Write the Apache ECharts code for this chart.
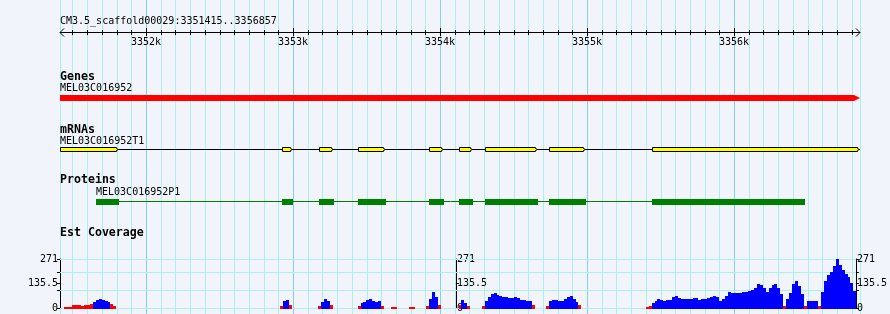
<!DOCTYPE html>
<html><head><meta charset="utf-8">
<script src="https://cdn.jsdelivr.net/npm/echarts@6/dist/echarts.min.js"></script>
<style>html,body{margin:0;padding:0;background:#f1f4fa;}#c{width:890px;height:314px;}</style>
</head><body><div id="c"></div>
<script>
// ---------- data ----------
const refTitle = 'CM3.5_scaffold00029:3351415..3356857';
const viewStart = 3351415;
const viewEnd = 3356857;
const rulerLabelPos = [3352000, 3353000, 3354000, 3355000, 3356000];
const rulerLabels = ['3352k', '3353k', '3354k', '3355k', '3356k'];
const trackTitles = ['Genes', 'mRNAs', 'Proteins', 'Est Coverage'];

const geneName = 'MEL03C016952';
const geneStart = 3351415;
const geneEnd = 3356857;

const mrnaName = 'MEL03C016952T1';
const exonStarts = [3351415, 3352925, 3353177, 3353442, 3353925, 3354129, 3354306, 3354741, 3355442];
const exonEnds   = [3351816, 3353000, 3353279, 3353633, 3354027, 3354224, 3354667, 3354993, 3356857];

const proteinName = 'MEL03C016952P1';
const cdsStarts = [3351660, 3352925, 3353177, 3353442, 3353925, 3354129, 3354306, 3354741, 3355442];
const cdsEnds   = [3351816, 3353000, 3353279, 3353633, 3354027, 3354224, 3354667, 3354993, 3356483];

const covMax = 271;
const covBin = 20;
const covLowCut = 25;
const covTickValues = [0, 97, 135.5, 199, 271];
const covLabelValues = [0, 135.5, 271];
const covGridValues = [0, 97, 199, 271];
const covRegionStarts = [3351440, 3352920, 3353180, 3353450, 3353680, 3353800, 3353920, 3354140, 3354300, 3354740, 3355420];
const covRegionValues = [
  [5,5,5,16,16,16,9,16,16,22,32,46,50,44,37,31,22,9],
  [10,40,46,18],
  [10,32,50,36,14],
  [9,28,34,46,52,40,34,40,12],
  [8,8],
  [8,8],
  [10,50,90,60,14],
  [14,46,30,10],
  [12,40,62,78,82,74,68,62,60,56,58,60,55,46,42,40,36,14],
  [12,40,46,46,40,36,48,60,64,48,34,14],
  [4,13,30,40,48,44,40,46,46,62,64,55,50,50,50,50,55,55,46,48,
   52,58,59,66,60,40,50,68,88,83,83,83,83,90,90,96,101,110,130,125,
   110,88,108,125,130,112,75,9,50,85,130,147,120,80,13,38,41,41,41,9,
   90,147,180,200,235,271,240,212,190,170,140,95]
];

// ---------- build ----------
const FONT = '10px "DejaVu Sans Mono"';
const BOLD = 'bold 11.6px "DejaVu Sans Mono"';
const MINOR = '#afeeee', MAJOR = '#87ceeb';

const vLines = [viewStart];
for (let p = Math.ceil(viewStart / 100) * 100; p < viewEnd; p += 100) vLines.push(p);
vLines.push(viewEnd);
const rulerTicks = vLines.slice(1, -1);

const covData = [];
covRegionStarts.forEach((s, r) => {
  covRegionValues[r].forEach((v, i) => covData.push([s + i * covBin, s + (i + 1) * covBin, v]));
});

function X(api, bp) { return api.coord([bp, 0])[0]; }

const chart = echarts.init(document.getElementById('c'));
chart.setOption({
  animation: false,
  backgroundColor: '#f1f4fa',
  grid: [
    { left: 60, right: 30, top: 0, bottom: 0, containLabel: false },
    { left: 60, right: 30, top: 259, height: 49, containLabel: false }
  ],
  xAxis: [
    { gridIndex: 0, type: 'value', min: viewStart, max: viewEnd, show: false },
    { gridIndex: 1, type: 'value', min: viewStart, max: viewEnd, show: false }
  ],
  yAxis: [
    { gridIndex: 0, type: 'value', min: 0, max: 1, show: false },
    { gridIndex: 1, type: 'value', min: 0, max: covMax, position: 'left',
      axisLine: { show: true, lineStyle: { color: '#000', width: 1 } },
      axisTick: { show: true, length: 3, customValues: covTickValues, lineStyle: { color: '#000' } },
      axisLabel: { show: true, customValues: covLabelValues, margin: 2, color: '#000', fontFamily: 'DejaVu Sans Mono', fontSize: 10,
        formatter: v => String(v) },
      splitLine: { show: false } },
    { gridIndex: 1, type: 'value', min: 0, max: covMax, position: 'right', offset: -400,
      axisLine: { show: true, lineStyle: { color: '#000', width: 1 } },
      axisTick: { show: true, length: 3, customValues: covTickValues, lineStyle: { color: '#000' } },
      axisLabel: { show: true, customValues: covLabelValues, margin: 1, color: '#000', fontFamily: 'DejaVu Sans Mono', fontSize: 10,
        formatter: v => String(v) },
      splitLine: { show: false } },
    { gridIndex: 1, type: 'value', min: 0, max: covMax, position: 'right', offset: 0,
      axisLine: { show: true, lineStyle: { color: '#000', width: 1 } },
      axisTick: { show: true, length: 3, customValues: covTickValues, lineStyle: { color: '#000' } },
      axisLabel: { show: true, customValues: covLabelValues, margin: 1, color: '#000', fontFamily: 'DejaVu Sans Mono', fontSize: 10,
        formatter: v => String(v) },
      splitLine: { show: false } }
  ],
  graphic: trackTitles.map((t, i) => ({
    type: 'text', x: 60, y: [77, 129.7, 180.3, 233][i], z: 50,
    style: { text: t, font: BOLD, fill: '#000', align: 'left', verticalAlign: 'middle' }
  })),
  series: [
    // vertical grid lines
    { type: 'custom', xAxisIndex: 0, yAxisIndex: 0, z: 0, silent: true, clip: false,
      data: vLines.map(v => [v, 0]), encode: { x: 0, y: 1 },
      renderItem: (params, api) => {
        const v = api.value(0);
        const x = Math.round(X(api, v)) + 0.5;
        return { type: 'line', shape: { x1: x, y1: 0, x2: x, y2: 314 },
          style: { stroke: (v % 1000 === 0) ? MAJOR : MINOR, lineWidth: 1 } };
      } },
    // coverage horizontal grid lines
    { type: 'custom', xAxisIndex: 1, yAxisIndex: 1, z: 1, silent: true, clip: false,
      data: covGridValues.map(v => [viewStart, v]), encode: { x: 0, y: 1 },
      renderItem: (params, api) => {
        const p0 = api.coord([viewStart, api.value(1)]);
        const p1 = api.coord([viewEnd, api.value(1)]);
        const y = Math.round(p0[1]) + 0.5;
        return { type: 'line', shape: { x1: p0[0], y1: y, x2: p1[0], y2: y },
          style: { stroke: MINOR, lineWidth: 1 } };
      } },
    // ruler
    { type: 'custom', xAxisIndex: 0, yAxisIndex: 0, z: 5, silent: true, clip: false,
      data: [[viewStart, viewEnd]], encode: { x: [0, 1] },
      renderItem: (params, api) => {
        const x0 = X(api, viewStart), x1 = X(api, viewEnd);
        const y = 32.5;
        const ch = [
          { type: 'line', shape: { x1: x0, y1: y, x2: x1, y2: y }, style: { stroke: '#000', lineWidth: 1 } },
          { type: 'polyline', shape: { points: [[x0 + 4, y - 4], [x0, y], [x0 + 4, y + 4]] }, style: { stroke: '#000', lineWidth: 1, fill: null } },
          { type: 'polyline', shape: { points: [[x1 - 4, y - 4], [x1, y], [x1 - 4, y + 4]] }, style: { stroke: '#000', lineWidth: 1, fill: null } },
          { type: 'text', style: { text: refTitle, x: x0, y: 21, font: FONT, fill: '#000', align: 'left', verticalAlign: 'middle' } }
        ];
        rulerTicks.forEach(t => {
          const x = Math.round(X(api, t)) + 0.5;
          const major = t % 1000 === 0;
          ch.push({ type: 'line', shape: { x1: x, y1: major ? 28 : 30, x2: x, y2: major ? 36 : 35 }, style: { stroke: '#000', lineWidth: 1 } });
        });
        rulerLabelPos.forEach((t, i) => {
          ch.push({ type: 'text', style: { text: rulerLabels[i], x: X(api, t), y: 42.5, font: FONT, fill: '#000', align: 'center', verticalAlign: 'middle' } });
        });
        return { type: 'group', children: ch };
      } },
    // gene
    { type: 'custom', xAxisIndex: 0, yAxisIndex: 0, z: 5, silent: true, clip: false,
      data: [[geneStart, geneEnd]], encode: { x: [0, 1] },
      renderItem: (params, api) => {
        const x0 = X(api, api.value(0)), x1 = X(api, api.value(1));
        return { type: 'group', children: [
          { type: 'polygon', shape: { points: [[x0, 95], [x1 - 6, 95], [x1, 98], [x1 - 6, 101], [x0, 101]] }, style: { fill: '#ff0000' } },
          { type: 'text', style: { text: geneName, x: x0, y: 88, font: FONT, fill: '#000', align: 'left', verticalAlign: 'middle' } }
        ] };
      } },
    // mRNA
    { type: 'custom', xAxisIndex: 0, yAxisIndex: 0, z: 5, silent: true, clip: false,
      data: exonStarts.map((s, i) => [s, exonEnds[i]]), encode: { x: [0, 1] },
      renderItem: (params, api) => {
        const ch = [];
        if (params.dataIndex === 0) {
          const a = X(api, exonStarts[0]), b = X(api, exonEnds[exonEnds.length - 1]);
          ch.push({ type: 'line', shape: { x1: a, y1: 149.5, x2: b, y2: 149.5 }, style: { stroke: '#000', lineWidth: 1 } });
          ch.push({ type: 'text', style: { text: mrnaName, x: a, y: 141.2, font: FONT, fill: '#000', align: 'left', verticalAlign: 'middle' } });
        }
        const x0 = Math.round(X(api, api.value(0))) + 0.5;
        const x1 = Math.round(X(api, api.value(1))) - 0.5;
        ch.push({ type: 'polygon', shape: { points: [[x0, 147.5], [x1 - 2, 147.5], [x1 - 2, 148.5], [x1, 149.5], [x1 - 2, 150.5], [x1 - 2, 151.5], [x0, 151.5]] },
          style: { fill: '#ffff00', stroke: '#000', lineWidth: 1 } });
        return { type: 'group', children: ch };
      } },
    // protein
    { type: 'custom', xAxisIndex: 0, yAxisIndex: 0, z: 5, silent: true, clip: false,
      data: cdsStarts.map((s, i) => [s, cdsEnds[i]]), encode: { x: [0, 1] },
      renderItem: (params, api) => {
        const ch = [];
        if (params.dataIndex === 0) {
          const a = X(api, cdsStarts[0]), b = X(api, cdsEnds[cdsEnds.length - 1]);
          ch.push({ type: 'line', shape: { x1: a, y1: 201.5, x2: b, y2: 201.5 }, style: { stroke: '#008000', lineWidth: 1 } });
          ch.push({ type: 'text', style: { text: proteinName, x: a, y: 192.9, font: FONT, fill: '#000', align: 'left', verticalAlign: 'middle' } });
        }
        const x0 = Math.round(X(api, api.value(0)));
        const x1 = Math.round(X(api, api.value(1)));
        ch.push({ type: 'rect', shape: { x: x0, y: 199, width: x1 - x0, height: 6 }, style: { fill: '#008000' } });
        return { type: 'group', children: ch };
      } },
    // coverage
    { type: 'custom', xAxisIndex: 1, yAxisIndex: 1, z: 3, silent: true, clip: false,
      data: covData, encode: { x: [0, 1], y: 2 },
      renderItem: (params, api) => {
        const p0 = api.coord([api.value(0), 0]);
        const p1 = api.coord([api.value(1), api.value(2)]);
        const xa = Math.round(p0[0]), xb = Math.round(p1[0]);
        const yb = Math.round(p0[1]) + 1, yt = Math.round(p1[1]);
        return { type: 'rect', shape: { x: xa, y: yt, width: Math.max(1, xb - xa), height: Math.max(1, yb - yt) },
          style: { fill: api.value(2) < covLowCut ? '#ff0000' : '#0000ff', stroke: null } };
      } }
  ]
});
</script>
</body></html>
